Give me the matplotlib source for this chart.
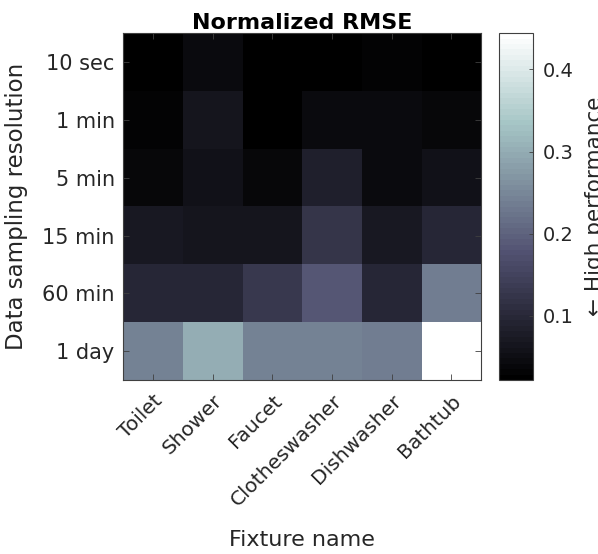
import numpy as np
import matplotlib
matplotlib.use("Agg")
import matplotlib.pyplot as plt

fixtures = ["Toilet", "Shower", "Faucet", "Clotheswasher", "Dishwasher", "Bathtub"]
resolutions = ["10 sec", "1 min", "5 min", "15 min", "60 min", "1 day"]

# normalized RMSE, one list per sampling resolution (rows), columns = fixtures
rmse_10sec = [0.025, 0.046, 0.027, 0.027, 0.034, 0.022]
rmse_1min = [0.029, 0.062, 0.025, 0.048, 0.043, 0.041]
rmse_5min = [0.040, 0.055, 0.041, 0.086, 0.043, 0.056]
rmse_15min = [0.073, 0.062, 0.067, 0.123, 0.073, 0.100]
rmse_60min = [0.100, 0.096, 0.130, 0.185, 0.096, 0.236]
rmse_1day = [0.245, 0.300, 0.243, 0.240, 0.236, 0.444]

data = np.array([rmse_10sec, rmse_1min, rmse_5min, rmse_15min, rmse_60min, rmse_1day])

txt = "#262626"
plt.rcParams["font.family"] = "DejaVu Sans"

fig = plt.figure(figsize=(5.98, 5.54), dpi=100)
ax = fig.add_axes([0.2057, 0.314, 0.599, 0.626])
cax = fig.add_axes([0.8344, 0.314, 0.0569, 0.626])

cmap = plt.get_cmap("bone", 64)
im = ax.imshow(data, cmap=cmap, aspect="auto", interpolation="nearest")

ax.set_xticks(range(len(fixtures)))
ax.set_xticklabels(fixtures, rotation=45, ha="right", va="top",
                   rotation_mode="anchor", fontsize=14.5, color=txt)
ax.set_yticks(range(len(resolutions)))
ax.set_yticklabels(resolutions, fontsize=15, color=txt)
ax.tick_params(axis="y", direction="in", right=True, length=4, width=0.6,
               color="#404040", pad=6)
ax.tick_params(axis="x", direction="in", top=True, length=4, width=0.6,
               color="#404040", pad=8)
for s in ax.spines.values():
    s.set_color("#404040")
    s.set_linewidth(0.8)

ax.set_title("Normalized RMSE", fontsize=16, fontweight="bold", pad=3)
ax.set_xlabel("Fixture name", fontsize=16, color=txt)
ax.xaxis.set_label_coords(0.5, -0.46)
ax.xaxis.label.set_va("center")
ax.set_ylabel("Data sampling resolution", fontsize=16.5, color=txt, labelpad=10)

cb = fig.colorbar(im, cax=cax)
cb.set_ticks([0.1, 0.2, 0.3, 0.4])
cb.ax.tick_params(direction="in", length=3, width=0.6, labelsize=14,
                  labelcolor=txt, color="#404040", pad=7)
cb.outline.set_edgecolor("#404040")
cb.outline.set_linewidth(0.8)

fig.text(585 / 598, 0.628, "\u2190 High performance", rotation=90,
         ha="left", va="center", fontsize=15.5, color=txt)

fig.savefig("out.png", dpi=100)
